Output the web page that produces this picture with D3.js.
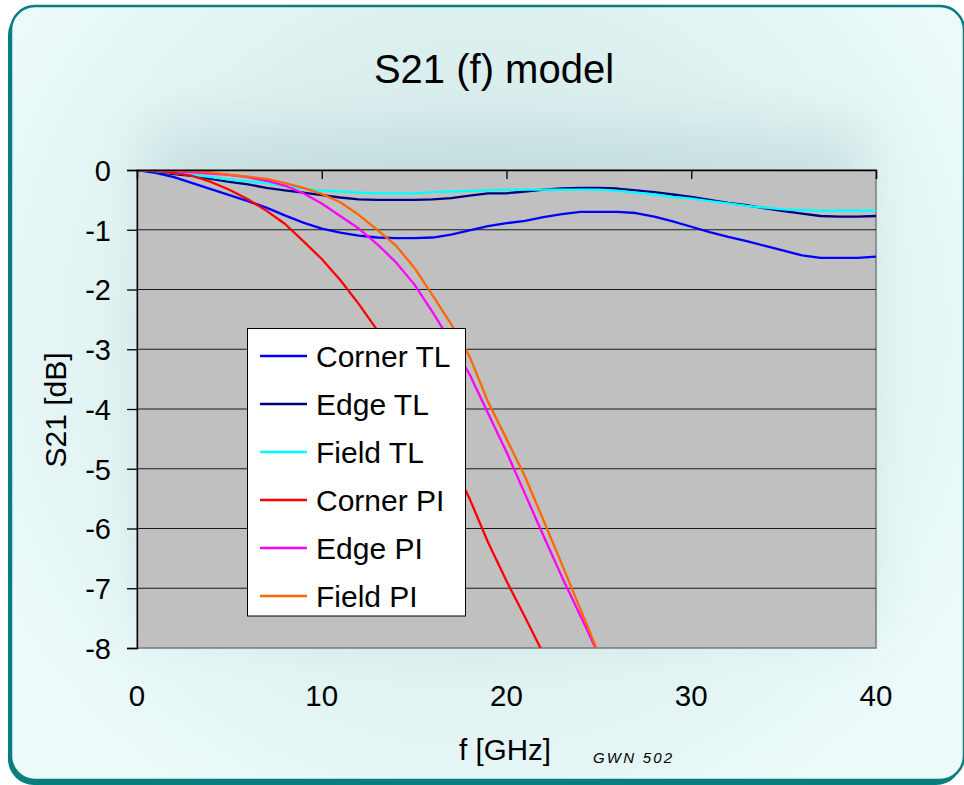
<!DOCTYPE html>
<html>
<head>
<meta charset="utf-8">
<script src="https://cdn.jsdelivr.net/npm/d3@7"></script>
<style>
  html, body { margin: 0; padding: 0; background: #ffffff; }
  svg { display: block; }
  text { font-family: "Liberation Sans", Arial, sans-serif; fill: #000; }
</style>
</head>
<body>
<svg id="chart" width="964" height="785"></svg>
<script>
// ---------- data ----------
const freqGHz = d3.range(0, 41); // 0..40 GHz, 1 GHz steps
const seriesNames = ["Corner TL", "Edge TL", "Field TL", "Corner PI", "Edge PI", "Field PI"];
const seriesColors = ["#0000ff", "#000080", "#00ffff", "#ff0000", "#ff00ff", "#ff6600"];

const cornerTL = [0, -0.05, -0.12, -0.22, -0.32, -0.42, -0.52, -0.63, -0.76, -0.88, -0.98,
  -1.05, -1.1, -1.13, -1.14, -1.14, -1.13, -1.08, -1.01, -0.94, -0.89,
  -0.85, -0.79, -0.74, -0.70, -0.70, -0.70, -0.72, -0.78, -0.86, -0.95,
  -1.04, -1.12, -1.19, -1.27, -1.35, -1.43, -1.47, -1.47, -1.47, -1.45];
const edgeTL = [0, -0.03, -0.07, -0.1, -0.15, -0.2, -0.24, -0.3, -0.34, -0.38, -0.42,
  -0.46, -0.49, -0.5, -0.5, -0.5, -0.49, -0.47, -0.43, -0.39, -0.39,
  -0.36, -0.33, -0.31, -0.30, -0.30, -0.31, -0.34, -0.37, -0.41, -0.45,
  -0.5, -0.55, -0.59, -0.64, -0.69, -0.73, -0.77, -0.78, -0.78, -0.77];
const fieldTL = [0, -0.02, -0.05, -0.08, -0.12, -0.16, -0.19, -0.22, -0.27, -0.31, -0.34,
  -0.36, -0.38, -0.39, -0.39, -0.39, -0.37, -0.36, -0.35, -0.34, -0.33,
  -0.33, -0.33, -0.33, -0.33, -0.33, -0.35, -0.38, -0.41, -0.45, -0.48,
  -0.52, -0.56, -0.6, -0.63, -0.66, -0.67, -0.68, -0.68, -0.68, -0.68];
const cornerPI = [0, -0.01, -0.05, -0.1, -0.2, -0.33, -0.49, -0.68, -0.9, -1.19, -1.49,
  -1.84, -2.24, -2.68, -3.2, -3.75, -4.3, -4.87, -5.5, -6.23, -6.88,
  -7.48, -8.1];
const edgePI = [0, 0, -0.02, -0.04, -0.06, -0.08, -0.12, -0.18, -0.26, -0.39, -0.56,
  -0.77, -0.98, -1.24, -1.54, -1.91, -2.38, -2.88, -3.42, -4.07, -4.72,
  -5.42, -6.12, -6.81, -7.46, -8.12];
const fieldPI = [0, 0, -0.01, -0.02, -0.04, -0.08, -0.11, -0.15, -0.22, -0.3, -0.4,
  -0.54, -0.75, -1.0, -1.26, -1.63, -2.1, -2.58, -3.12, -3.88, -4.5,
  -5.13, -5.86, -6.6, -7.35, -8.1];
const seriesValues = [cornerTL, edgeTL, fieldTL, cornerPI, edgePI, fieldPI];

const xTicks = [0, 10, 20, 30, 40];
const yTicks = [0, -1, -2, -3, -4, -5, -6, -7, -8];

// ---------- layout ----------
const svg = d3.select("#chart");
const plot = { left: 137, top: 170, right: 876, bottom: 648 };

const x = d3.scaleLinear().domain([0, 40]).range([plot.left, plot.right]);
const y = d3.scaleLinear().domain([0, -8]).range([plot.top, plot.bottom]);

const defs = svg.append("defs");
const rg = defs.append("radialGradient").attr("id", "bg")
  .attr("gradientUnits", "userSpaceOnUse")
  .attr("cx", 480).attr("cy", 330).attr("r", 560);
rg.append("stop").attr("offset", "0%").attr("stop-color", "#cfe5e5");
rg.append("stop").attr("offset", "55%").attr("stop-color", "#ddf0f0");
rg.append("stop").attr("offset", "100%").attr("stop-color", "#ecfafa");
defs.append("filter").attr("id", "blur").attr("x", "-30%").attr("y", "-30%").attr("width", "160%").attr("height", "160%")
  .append("feGaussianBlur").attr("stdDeviation", 26);
defs.append("clipPath").attr("id", "clip").append("rect")
  .attr("x", plot.left).attr("y", plot.top)
  .attr("width", plot.right - plot.left).attr("height", plot.bottom - plot.top);

// outer panel with shadow
svg.append("rect").attr("x", 8).attr("y", 9).attr("width", 954).attr("height", 776)
  .attr("rx", 26).attr("fill", "#0a7d7d");
svg.append("rect").attr("x", 11).attr("y", 6).attr("width", 953).attr("height", 774)
  .attr("rx", 24).attr("fill", "url(#bg)").attr("stroke", "#0a7d7d").attr("stroke-width", 2.5);

// soft glow behind plot
svg.append("rect").attr("x", plot.left + 10).attr("y", plot.top - 40)
  .attr("width", plot.right - plot.left - 20).attr("height", plot.bottom - plot.top + 20)
  .attr("fill", "#a6c8c8").attr("opacity", 0.38).attr("filter", "url(#blur)");

// plot area
svg.append("rect").attr("x", plot.left).attr("y", plot.top)
  .attr("width", plot.right - plot.left).attr("height", plot.bottom - plot.top)
  .attr("fill", "#c0c0c0").attr("stroke", "#7a7a7a").attr("stroke-width", 1.5);

// gridlines
svg.append("g").selectAll("line").data(yTicks.filter(d => d !== 0 && d !== -8)).join("line")
  .attr("x1", plot.left).attr("x2", plot.right)
  .attr("y1", d => y(d)).attr("y2", d => y(d))
  .attr("stroke", "#1a1a1a").attr("stroke-width", 1);

// series
const line = d3.line().x((d, i) => x(freqGHz[i])).y(d => y(d));
const lines = svg.append("g").attr("clip-path", "url(#clip)");
seriesValues.forEach((vals, k) => {
  lines.append("path").datum(vals)
    .attr("d", line)
    .attr("fill", "none")
    .attr("stroke", seriesColors[k])
    .attr("stroke-width", 2.3)
    .attr("stroke-linejoin", "round");
});

// Y axis (left)
const yAxis = d3.axisLeft(y).tickValues(yTicks).tickSize(10).tickFormat(d3.format("d"));
const gy = svg.append("g").attr("transform", `translate(${plot.left},0)`).call(yAxis);
gy.select(".domain").attr("stroke", "#000").attr("stroke-width", 1.3);
gy.selectAll(".tick line").attr("stroke", "#000").attr("stroke-width", 1.3);
gy.selectAll(".tick text").attr("font-size", 29).attr("x", -26).attr("dy", "0.36em")
  .attr("font-family", "Liberation Sans, Arial, sans-serif").attr("fill", "#000")
  .text(d => d === 0 ? "0" : String(d).replace("\u2212", "-"));

// X axis at y = 0 (top), ticks into plot, labels at bottom
const xAxis = d3.axisBottom(x).tickValues(xTicks).tickSize(9).tickFormat("");
const gx = svg.append("g").attr("transform", `translate(0,${y(0)})`).call(xAxis);
gx.select(".domain").attr("stroke", "#000").attr("stroke-width", 1.3);
gx.selectAll(".tick line").attr("stroke", "#000").attr("stroke-width", 1.3);

svg.append("g").selectAll("text").data(xTicks).join("text")
  .attr("x", d => x(d)).attr("y", 706)
  .attr("text-anchor", "middle").attr("font-size", 29.5)
  .text(d => d);

// titles
svg.append("text").attr("x", 494).attr("y", 83).attr("text-anchor", "middle")
  .attr("font-size", 40).text("S21 (f) model");
svg.append("text").attr("transform", "translate(66,410) rotate(-90)")
  .attr("text-anchor", "middle").attr("font-size", 30).text("S21 [dB]");
svg.append("text").attr("x", 505).attr("y", 760).attr("text-anchor", "middle")
  .attr("font-size", 29.5).text("f [GHz]");
svg.append("text").attr("x", 593).attr("y", 763).attr("font-size", 15)
  .attr("font-style", "italic").attr("letter-spacing", 2.2).text("GWN 502");

// legend
const lg = svg.append("g");
lg.append("rect").attr("x", 247.5).attr("y", 328.5).attr("width", 218).attr("height", 287.5)
  .attr("fill", "#ffffff").attr("stroke", "#000").attr("stroke-width", 1);
seriesNames.forEach((name, k) => {
  const ly = 356 + k * 48;
  lg.append("line").attr("x1", 260).attr("x2", 307).attr("y1", ly).attr("y2", ly)
    .attr("stroke", seriesColors[k]).attr("stroke-width", 2.3);
  lg.append("text").attr("x", 316).attr("y", ly + 10.5).attr("font-size", 30).text(name);
});
</script>
</body>
</html>
